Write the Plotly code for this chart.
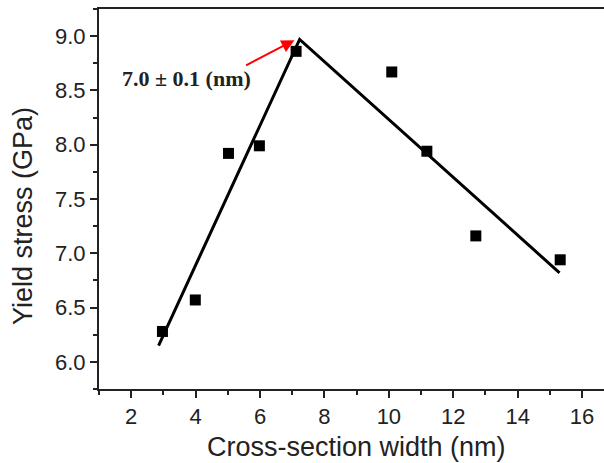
import plotly.graph_objects as go

# Data
width_nm = [2.97, 3.99, 5.02, 5.98, 7.12, 10.09, 11.18, 12.70, 15.32]
yield_gpa = [6.28, 6.57, 7.92, 7.99, 8.86, 8.67, 7.94, 7.16, 6.94]

fit_x = [2.85, 7.23, 15.30]
fit_y = [6.15, 8.97, 6.82]

x_ticks = [2, 4, 6, 8, 10, 12, 14, 16]
y_ticks = [6.0, 6.5, 7.0, 7.5, 8.0, 8.5, 9.0]

label_text = "7.0 ± 0.1 (nm)"
arrow_tail = (5.52, 8.724)
arrow_head = (7.07, 8.963)

fig = go.Figure()
fig.add_trace(go.Scatter(x=fit_x, y=fit_y, mode="lines",
                         line=dict(color="black", width=3), showlegend=False,
                         hoverinfo="skip"))
fig.add_trace(go.Scatter(x=width_nm, y=yield_gpa, mode="markers",
                         marker=dict(symbol="square", size=11, color="black"),
                         showlegend=False))

fig.add_annotation(x=arrow_head[0], y=arrow_head[1], ax=arrow_tail[0], ay=arrow_tail[1],
                   xref="x", yref="y", axref="x", ayref="y", text="",
                   showarrow=True, arrowhead=2, arrowsize=1.3, arrowwidth=2,
                   arrowcolor="red")
fig.add_annotation(x=3.71, y=8.61, xref="x", yref="y", text="<b>" + label_text + "</b>",
                   showarrow=False, xanchor="center", yanchor="middle",
                   font=dict(family="Liberation Serif, Times New Roman, serif", size=22, color="#222"))

fig.add_annotation(x=-0.1505, y=0.455, xref="paper", yref="paper",
                   text="Yield stress (GPa)", textangle=-90, showarrow=False,
                   xanchor="center", yanchor="middle",
                   font=dict(family="Liberation Sans, Arial, sans-serif", size=27, color="#222"))
fig.add_annotation(x=0.509, y=-0.1526, xref="paper", yref="paper",
                   text="Cross-section width (nm)", showarrow=False,
                   xanchor="center", yanchor="middle",
                   font=dict(family="Liberation Sans, Arial, sans-serif", size=27, color="#222"))

fig.update_xaxes(range=[1, 16.68], tickmode="array", tickvals=x_ticks,
                 ticktext=[str(v) for v in x_ticks],
                 ticks="outside", ticklen=7, tickwidth=2, tickcolor="#222",
                 showline=True, linewidth=2, linecolor="#222", mirror=True,
                 showgrid=False, zeroline=False,
                 minor=dict(dtick=1, tick0=1, ticks="outside", ticklen=4, tickwidth=2, tickcolor="#222"),
                 tickfont=dict(family="Liberation Sans, Arial, sans-serif", size=22, color="#222"))
fig.update_yaxes(range=[5.75, 9.25], tickmode="array", tickvals=y_ticks,
                 ticktext=[f"{v:.1f}" for v in y_ticks],
                 ticks="outside", ticklen=7, tickwidth=2, tickcolor="#222",
                 showline=True, linewidth=2, linecolor="#222", mirror=False,
                 showgrid=False, zeroline=False,
                 minor=dict(dtick=0.25, tick0=5.75, ticks="outside", ticklen=4, tickwidth=2, tickcolor="#222"),
                 tickfont=dict(family="Liberation Sans, Arial, sans-serif", size=22, color="#222"))

fig.update_layout(width=604, height=463, margin=dict(l=99, r=0, t=9, b=74),
                  plot_bgcolor="white", paper_bgcolor="white")

fig.write_html("out.html")
